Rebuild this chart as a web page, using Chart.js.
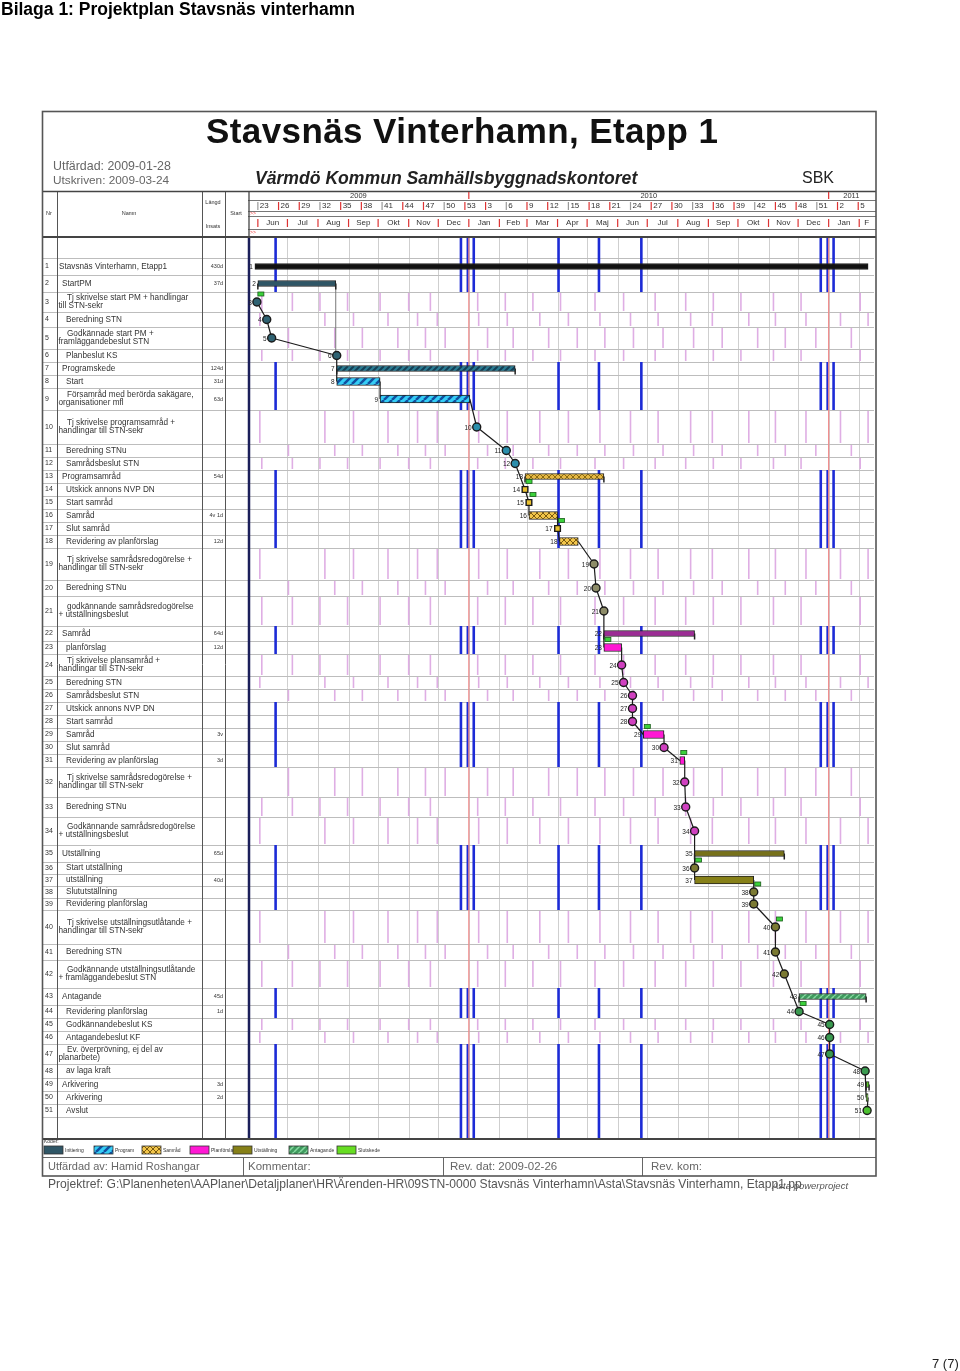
<!DOCTYPE html>
<html><head><meta charset="utf-8">
<script src="https://cdn.jsdelivr.net/npm/chart.js@4/dist/chart.umd.min.js"></script>
<style>
body{margin:0;background:#fff;width:960px;height:1371px;position:relative;overflow:hidden;font-family:"Liberation Sans",Arial,sans-serif;}
#c{position:absolute;left:0;top:0;}
.t{position:absolute;white-space:nowrap;line-height:1;}
</style></head><body>
<canvas id="c" width="960" height="1371"></canvas>
<div class="t" style="left:1px;top:1px;font-weight:bold;font-size:17.5px;color:#000;">Bilaga 1: Projektplan Stavsnäs vinterhamn</div>
<div class="t" style="left:206px;top:113px;font-weight:bold;font-size:35px;color:#111;letter-spacing:0.4px;">Stavsnäs Vinterhamn, Etapp 1</div>
<div class="t" style="left:53px;top:160px;font-size:12.4px;color:#666;">Utfärdad: 2009-01-28</div>
<div class="t" style="left:53px;top:175px;font-size:11.8px;color:#666;">Utskriven: 2009-03-24</div>
<div class="t" style="left:255px;top:170px;font-weight:bold;font-style:italic;font-size:17.6px;color:#222;">Värmdö Kommun Samhällsbyggnadskontoret</div>
<div class="t" style="left:802px;top:170px;font-size:16px;color:#222;">SBK</div>
<div class="t" style="left:48px;top:1161px;font-size:11px;color:#666;">Utfärdad av: Hamid Roshangar</div>
<div class="t" style="left:248px;top:1161px;font-size:11.5px;color:#666;">Kommentar:</div>
<div class="t" style="left:450px;top:1161px;font-size:11.5px;color:#666;">Rev. dat: 2009-02-26</div>
<div class="t" style="left:651px;top:1161px;font-size:11.5px;color:#666;">Rev. kom:</div>
<div class="t" style="left:48px;top:1178px;font-size:12.1px;color:#555;">Projektref: G:\Planenheten\AAPlaner\Detaljplaner\HR\Ärenden-HR\09STN-0000 Stavsnäs Vinterhamn\Asta\Stavsnäs Vinterhamn, Etapp1.pp</div>
<div class="t" style="left:772px;top:1181px;font-size:9.5px;font-style:italic;color:#555;">Asta powerproject</div>
<div class="t" style="left:932px;top:1357px;font-size:13px;color:#222;">7 (7)</div>
<script>
// ---------------- DATA ----------------
const taskNames = [
 "Stavsnäs Vinterhamn, Etapp1","StartPM","Tj skrivelse start PM + handlingar\ntill STN-sekr","Beredning STN",
 "Godkännade start PM +\nframläggandebeslut STN","Planbeslut KS","Programskede","Start",
 "Församråd med berörda sakägare,\norganisationer mfl","Tj skrivelse programsamråd +\nhandlingar till STN-sekr",
 "Beredning STNu","Samrådsbeslut STN","Programsamråd","Utskick annons NVP DN","Start samråd","Samråd",
 "Slut samråd","Revidering av planförslag","Tj skrivelse samrådsredogörelse +\nhandlingar till STN-sekr",
 "Beredning STNu","godkännande samrådsredogörelse\n+ utställningsbeslut","Samråd","planförslag",
 "Tj skrivelse plansamråd +\nhandlingar till STN-sekr","Beredning STN","Samrådsbeslut STN",
 "Utskick annons NVP DN","Start samråd","Samråd","Slut samråd","Revidering av planförslag",
 "Tj skrivelse samrådsredogörelse +\nhandlingar till STN-sekr","Beredning STNu",
 "Godkännande samrådsredogörelse\n+ utställningsbeslut","Utställning","Start utställning","utställning",
 "Slututställning","Revidering planförslag","Tj skrivelse utställningsutlåtande +\nhandlingar till STN-sekr",
 "Beredning STN","Godkännande utställningsutlåtande\n+ framläggandebeslut STN","Antagande",
 "Revidering planförslag","Godkännandebeslut KS","Antagandebeslut KF","Ev. överprövning, ej del av\nplanarbete)",
 "av laga kraft","Arkivering","Arkivering","Avslut"];
const taskLengths = ["430d","37d","","","","","124d","31d","63d","","","","54d","","","4v 1d","","12d","","","",
 "64d","12d","","","","","","3v","","3d","","","","65d","","40d","","","","","","45d","1d","","","","","3d","2d",""];
const taskKinds = ["sum","sum","ms","ms","ms","ms","sum","bar","bar","ms","ms","ms","sum","ms","ms","bar","ms","bar",
 "ms","ms","ms","sum","bar","ms","ms","ms","ms","ms","bar","ms","bar","ms","ms","ms","sum","ms","bar","ms","ms","ms",
 "ms","ms","sum","ms","ms","ms","ms","ms","sum","bar","ms"];
const taskPhase = [-1,0,0,0,0,0,1,1,1,1,1,1,2,2,2,2,2,2,7,7,7,3,3,3,3,3,3,3,3,3,3,3,3,3,4,4,4,4,4,4,4,4,5,5,5,5,5,5,6,6,6];
const taskStart = ["2009-05-29","2009-06-01","2009-05-31","2009-06-10","2009-06-15","2009-08-20","2009-08-20","2009-08-20",
 "2009-10-03","2010-01-09","2010-02-08","2010-02-17","2010-02-27","2010-02-27","2010-03-03","2010-03-03","2010-04-01",
 "2010-04-03","2010-05-08","2010-05-10","2010-05-18","2010-05-18","2010-05-18","2010-06-05","2010-06-07","2010-06-16",
 "2010-06-16","2010-06-16","2010-06-27","2010-07-18","2010-08-03","2010-08-08","2010-08-09","2010-08-18","2010-08-18",
 "2010-08-18","2010-08-18","2010-10-17","2010-10-17","2010-11-08","2010-11-08","2010-11-17","2010-12-02","2010-12-02",
 "2011-01-02","2011-01-02","2011-01-02","2011-02-07","2011-02-08","2011-02-08","2011-02-09"];
const taskEnd = ["2011-02-10","2009-08-19",null,null,null,null,"2010-02-17","2009-10-03","2010-01-02",null,null,null,
 "2010-05-18",null,null,"2010-04-01",null,"2010-04-22",null,null,null,"2010-08-18","2010-06-05",null,null,null,null,null,
 "2010-07-18",null,"2010-08-08",null,null,null,"2010-11-17",null,"2010-10-17",null,null,null,null,null,"2011-02-08",null,
 null,null,null,null,"2011-02-11","2011-02-10",null];
const flagRows = [3,14,15,17,23,29,31,36,38,40,44];
const phaseNames = ["Initiering","Program","Samråd","Planförslag","Utställning","Antagande","Slutskede"];
const holidays = ["2009-06-19","2009-12-24","2009-12-31","2010-01-06","2010-04-02","2010-05-13","2010-06-25","2010-12-24","2010-12-31","2011-01-06"];
const yearLines = ["2010-01-01","2011-01-01"];
const yearLabels = ["2009","2010","2011"];
const weekLabels = ["23","26","29","32","35","38","41","44","47","50","53","3","6","9","12","15","18","21","24","27","30","33","36","39","42","45","48","51","2","5"];
const firstWeekStart = "2009-06-01";
const monthLabels = ["Jun","Jul","Aug","Sep","Okt","Nov","Dec","Jan","Feb","Mar","Apr","Maj","Jun","Jul","Aug","Sep","Okt","Nov","Dec","Jan","F"];
const blueRows = [1,2,7,8,9,13,14,15,16,17,18,22,23,27,28,29,30,31,35,36,37,38,39,43,44,47,48,49,50,51];
const pinkRows = [3,4,5,6,10,11,12,19,20,21,24,25,26,32,33,34,40,41,42,45,46];
const pinkA = [-210,-179,-151,-123,-90,-61,-39,9,37,65,93,128,157,189,220,248,276,309,337,397];
const pinkB = [-212,-146,-117,-82,-52,-32,10,39,72,101,133,164,192,225,247,284,311,342,377,405];
const pinkC = [-183,-136,-108,-72,-44,-24,19,45,81,110,138,167,197,228,257,293,321,352,388];
// ---------------- LAYOUT ----------------
const rowH = [17,17,20,15,22,13,13,13,22,34,13,13,13,13,13,13,13,13,32,16,30,15,13,22,13,13,13,13,13,13,13,30,20,28,17,12,12,12,12,34,16,28,17,13,13,13,20,14,13,13,13];
const TOPSP = 21, BOTSP = 21;
const N = taskNames.length;
const tops = [TOPSP]; for (let i=0;i<N;i++) tops.push(tops[i]+rowH[i]);
const YMAX = tops[N]+BOTSP;
const centers = rowH.map((h,i)=>tops[i]+h/2);
const ORIGIN = Date.UTC(2010,0,1);
const dnum = s => { const [y,m,d]=s.split('-').map(Number); return (Date.UTC(y,m-1,d)-ORIGIN)/86400000; };
const XMIN = dnum("2009-05-22"), XMAX = dnum("2011-02-16");

const cv = document.getElementById('c'); const ctxMain = cv.getContext('2d');
function pat(base,line,size,w,cross){
  const c=document.createElement('canvas'); c.width=c.height=size; const g=c.getContext('2d');
  g.fillStyle=base; g.fillRect(0,0,size,size); g.strokeStyle=line; g.lineWidth=w; g.beginPath();
  for(let k=-1;k<=1;k++){ g.moveTo(k*size,size); g.lineTo(k*size+size,0); }
  if(cross){ for(let k=-1;k<=1;k++){ g.moveTo(k*size,0); g.lineTo(k*size+size,size);} }
  g.stroke(); return ctxMain.createPattern(c,'repeat');
}
const sumFill = {"-1":"#111111",0:"#2f5666",1:pat("#2a7d93","#133f56",6,2),2:pat("#e6b843","#8a6a10",6,1,true),3:"#9c2d95",4:"#77711a",5:pat("#3f9a5e","#86d9a0",6,1.5),6:"#5ecf2a"};
const barFill = {1:pat("#35cdf6","#1050a0",8,2.5),2:pat("#f3c64a","#7a5a10",6,1,true),3:"#ff18d4",4:"#868018",6:"#66dd22"};
const msFill = {0:"#2f6272",1:"#2b8eac",2:"#e8c030",7:"#8d8c68",3:"#d040c0",4:"#7b7a33",5:"#3a9a50",6:"#4cc030"};
const legendFill = [sumFill[0], barFill[1], barFill[2], barFill[3], barFill[4], sumFill[5], barFill[6]];

const sumData=[], barData=[], msData=[];
for (let i=0;i<N;i++){
  const k=taskKinds[i], r=i+1;
  if (k==='ms') msData.push({x:dnum(taskStart[i]), y:centers[i], r});
  else (k==='sum'?sumData:barData).push({x:[dnum(taskStart[i]),dnum(taskEnd[i])], y:centers[i], r});
}
const ph = r => taskPhase[r-1];

const deco = {
 id:'deco',
 beforeDraw(ch){
  const g=ch.ctx, xs=ch.scales.x, ys=ch.scales.y;
  const X=v=>xs.getPixelForValue(v), Y=v=>ys.getPixelForValue(v);
  const L=(x1,y1,x2,y2)=>{g.beginPath();g.moveTo(x1,y1);g.lineTo(x2,y2);g.stroke();};
  const x0=X(XMIN), x1=X(XMAX), yTop=Y(0), yBot=Y(YMAX);
  g.save(); g.fillStyle='#fff'; g.fillRect(0,0,ch.width,ch.height);
  // month grid
  g.strokeStyle='#cfcfcf'; g.lineWidth=1;
  for (let i=1;i<monthLabels.length;i++){ const d=(Date.UTC(2009,5+i,1)-ORIGIN)/86400000; const xx=Math.round(X(d))+0.5; L(xx,yTop,xx,yBot); }
  // row lines
  g.strokeStyle='#bdbdbd';
  for (let i=0;i<=N;i++){ const yy=Math.round(Y(tops[i]))+0.5; L(42,yy,x1,yy); }
  // pink marks
  g.strokeStyle='#dfaee4'; g.lineWidth=1.6;
  pinkRows.forEach(r=>{ const arr=[pinkA,pinkB,pinkC][r%3]; const ya=Y(tops[r-1])+1, yb=Y(tops[r])-1;
    arr.forEach(d=>{ const xx=X(d); if(xx>x0+2&&xx<x1-1) L(xx,ya,xx,yb); }); });
  // blue holiday lines
  g.strokeStyle='#1c2bd6'; g.lineWidth=2.6;
  const blueSpans = blueRows.map(r=>[tops[r-1],tops[r]]).concat([[0,TOPSP],[tops[N],YMAX]]);
  blueSpans.forEach(([a,b])=>{ holidays.forEach(h=>{ const xx=X(dnum(h)); L(xx,Y(a),xx,Y(b)); }); });
  // year lines
  g.strokeStyle='#f08a8a'; g.lineWidth=1.2;
  yearLines.forEach(s=>{ const xx=X(dnum(s)); L(xx,yTop,xx,yBot); });
  // left border of timeline
  g.strokeStyle='#1b1f5a'; g.lineWidth=2.5; L(x0+1,yTop,x0+1,yBot);
  // table columns
  g.strokeStyle='#555'; g.lineWidth=1;
  [57.5,202.5,225.5].forEach(xx=>L(xx,191,xx,yBot));
  // header lines
  g.strokeStyle='#444'; g.lineWidth=1.3; L(42,191.5,876,191.5);
  g.lineWidth=1.8; L(42,yTop,876,yTop); L(42,yBot+1,876,yBot+1);
  g.strokeStyle='#777'; g.lineWidth=1;
  [200.5,211.5,216.5,229.5].forEach(yy=>L(x0,yy,876,yy));
  g.strokeStyle='#444'; g.lineWidth=1.3; L(x0+1,191,x0+1,yTop);
  // footer boxes
  g.strokeStyle='#666'; g.lineWidth=1; L(42,1157.5,876,1157.5);
  [243.5,443.5,642.5].forEach(xx=>L(xx,1157,xx,1176));
  // frame
  g.strokeStyle='#555'; g.lineWidth=1.6; g.strokeRect(42.5,111.5,833.5,1064.5);
  // header texts (timeline)
  g.fillStyle='#333'; g.textBaseline='middle'; g.textAlign='center'; g.font='7.5px "Liberation Sans"';
  const yb=[XMIN,dnum("2010-01-01"),dnum("2011-01-01"),XMAX];
  yearLabels.forEach((t,i)=>{ g.fillText(t,(X(yb[i])+X(yb[i+1]))/2,195.5); });
  g.strokeStyle='#d33'; g.lineWidth=1.2;
  yearLines.forEach(s=>{ const xx=X(dnum(s)); L(xx,192,xx,199); });
  g.textAlign='left'; g.font='8px "Liberation Sans"';
  const w0=dnum(firstWeekStart);
  weekLabels.forEach((t,i)=>{ const xx=X(w0+21*i); g.strokeStyle=(i%3===0)?'#999':'#d33'; L(xx,202,xx,210); g.fillStyle='#333'; g.fillText(t,xx+2,206); });
  g.textAlign='center';
  monthLabels.forEach((t,i)=>{ const a=(Date.UTC(2009,5+i,1)-ORIGIN)/86400000, b=Math.min((Date.UTC(2009,6+i,1)-ORIGIN)/86400000,XMAX);
    g.fillStyle='#333'; g.fillText(t,(X(a)+X(b))/2,223); g.strokeStyle='#d33'; L(X(a),219,X(a),227); });
  g.fillStyle='#e33'; g.font='5px "Liberation Sans"'; g.textAlign='left';
  g.fillText('>>',250,213.5); g.fillText('>>',250,233);
  // left header texts
  g.fillStyle='#333'; g.font='5.5px "Liberation Sans"'; g.textAlign='center';
  g.fillText('Nr',49,213); g.fillText('Namn',129,213); g.fillText('Längd',213,202); g.fillText('Insats',213,226); g.fillText('Start',236,213);
  g.restore();
 },
 afterDatasetsDraw(ch){
  const g=ch.ctx, xs=ch.scales.x, ys=ch.scales.y;
  const X=v=>xs.getPixelForValue(v), Y=v=>ys.getPixelForValue(v);
  g.save();
  // task table text
  g.textBaseline='middle'; g.fillStyle='#333';
  for (let i=0;i<N;i++){
    const cy=Y(centers[i]); const lines=taskNames[i].split('\n');
    g.font='7px "Liberation Sans"'; g.textAlign='left'; g.fillText(String(i+1),45,cy);
    g.font='8.2px "Liberation Sans"';
    const base = (i===0)?59:(taskKinds[i]==='sum'?62:66);
    lines.forEach((ln,j)=>{ const yy=cy+(j-(lines.length-1)/2)*8.4; const xx=(lines.length>1)?(j===0?base+1:58.5):base; g.fillText(ln,xx,yy); });
    if (taskLengths[i]){ g.font='5.5px "Liberation Sans"'; g.textAlign='right'; g.fillText(taskLengths[i],223,cy); }
  }
  // task numbers and flags in the chart
  g.font='6.5px "Liberation Sans"'; g.textAlign='right'; g.fillStyle='#222';
  for (let i=0;i<N;i++){
    const cy=Y(centers[i]), xx=X(dnum(taskStart[i]));
    g.fillText(String(i+1), xx-(taskKinds[i]==='ms'?5:2), cy+1);
    if (flagRows.includes(i+1)){ g.fillStyle='#3bd13b'; g.strokeStyle='#1a5a1a'; g.lineWidth=0.8;
      g.fillRect(xx+1,cy-10,6,4); g.strokeRect(xx+1,cy-10,6,4); g.fillStyle='#222'; }
  }
  // legend
  g.font='5px "Liberation Sans"'; g.textAlign='left'; g.fillStyle='#333'; g.fillText('Koder:',44,1142);
  const lx=[44,94,142,190,233,289,337];
  phaseNames.forEach((p,i)=>{ g.fillStyle=legendFill[i]; g.fillRect(lx[i],1146,19,8); g.strokeStyle='#333'; g.lineWidth=0.8; g.strokeRect(lx[i],1146,19,8);
    g.fillStyle='#333'; g.fillText(p,lx[i]+21,1150.5); });
  g.restore();
 },
 beforeDatasetsDraw(ch){
  const g=ch.ctx, xs=ch.scales.x, ys=ch.scales.y;
  const X=v=>xs.getPixelForValue(v), Y=v=>ys.getPixelForValue(v);
  g.save();
  // drop line from the StartPM summary end to its last milestone
  g.strokeStyle='#777'; g.lineWidth=1;
  g.beginPath(); g.moveTo(X(dnum(taskEnd[1])),Y(centers[1])); g.lineTo(X(dnum(taskEnd[1])),Y(centers[5])); g.stroke();
  g.strokeStyle='#1a1a1a'; g.lineWidth=1.2;
  let prev=null;
  for (let i=0;i<N;i++){
    if (taskKinds[i]==='sum') continue;
    const s=X(dnum(taskStart[i])), e=X(dnum(taskEnd[i]||taskStart[i])), cy=Y(centers[i]);
    if (prev){ g.beginPath(); g.moveTo(prev[0],prev[1]); g.lineTo(s,cy); g.stroke(); }
    prev=[e,cy];
  }
  // summary end ticks
  g.strokeStyle='#222'; g.lineWidth=1.5;
  for (let i=1;i<N;i++){ if(taskKinds[i]!=='sum') continue; const cy=Y(centers[i]);
    [dnum(taskStart[i]),dnum(taskEnd[i])].forEach(d=>{ const xx=X(d); g.beginPath(); g.moveTo(xx,cy); g.lineTo(xx,cy+6); g.stroke(); }); }
  g.restore();
 }
};

new Chart(cv, {
  type:'bar',
  data:{ datasets:[
    {type:'scatter', data:msData, order:0, pointRadius:4, pointHoverRadius:4, borderWidth:1.4, borderColor:'#1a1a1a',
     pointStyle: c=>{ const p=ph(c.raw.r); return (p===2)?'rect':'circle'; },
     backgroundColor: c=>msFill[ph(c.raw.r)]},
    {type:'bar', indexAxis:'y', data:sumData, order:1, grouped:false, barThickness:6, borderWidth:1, borderColor:'#222', borderSkipped:false,
     backgroundColor: c=>sumFill[ph(c.raw.r)]},
    {type:'bar', indexAxis:'y', data:barData, order:1, grouped:false, barThickness:8, borderWidth:1, borderColor:'#222', borderSkipped:false,
     backgroundColor: c=>barFill[ph(c.raw.r)]}
  ]},
  options:{
    indexAxis:'y', responsive:false, devicePixelRatio:1, animation:false,
    layout:{padding:{left:248,right:86,top:237,bottom:233}},
    plugins:{legend:{display:false}, tooltip:{enabled:false}},
    scales:{
      x:{type:'linear', min:XMIN, max:XMAX, display:false, offset:false},
      y:{type:'linear', min:0, max:YMAX, reverse:true, display:false, offset:false}
    }
  },
  plugins:[deco]
});
</script>
</body></html>
